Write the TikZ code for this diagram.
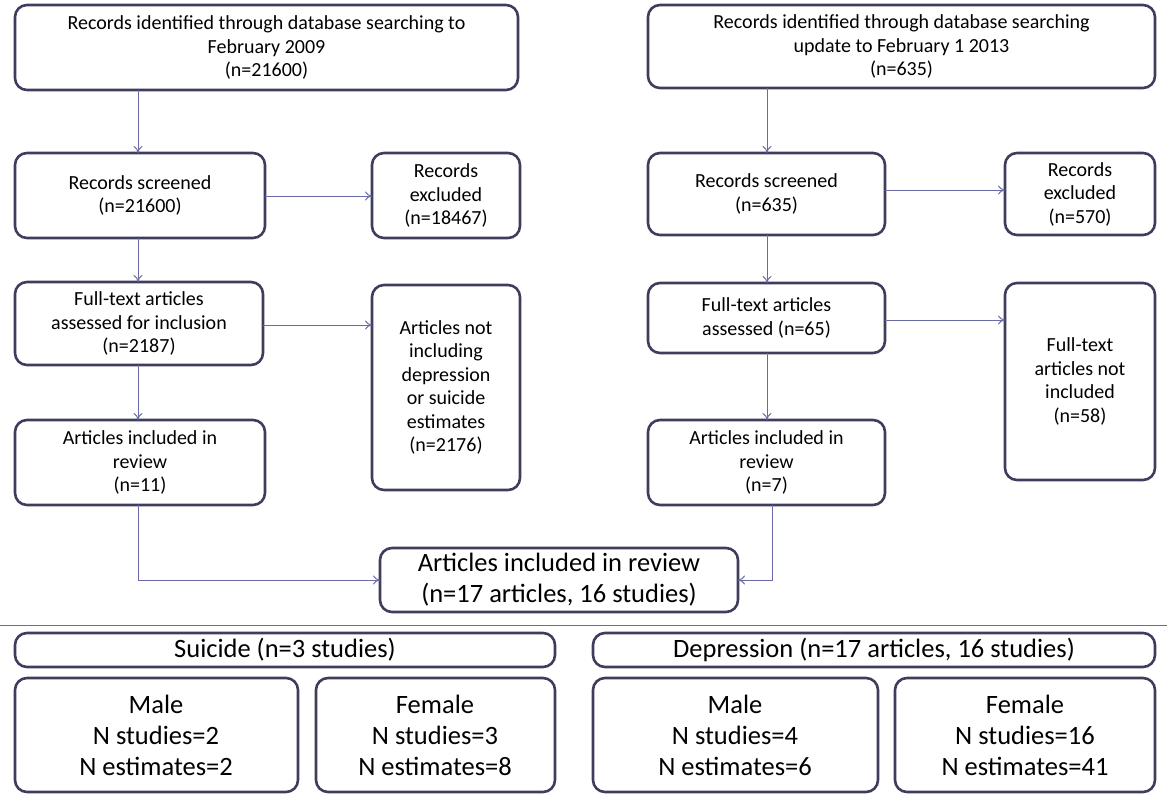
\documentclass[tikz,border=0pt]{standalone}
\usepackage{fontspec}
\setmainfont{Carlito}
\usetikzlibrary{arrows.meta}
\definecolor{bx}{HTML}{3F3D5E}
\definecolor{ar}{HTML}{6A6AA6}
\begin{document}
\begin{tikzpicture}[x=1pt,y=-1pt,
 box/.style={draw=bx,line width=2.6pt,rounded corners=12pt},
 t/.style={align=center,font=\fontsize{20}{23.5}\selectfont,text=black},
 tb/.style={align=center,font=\fontsize{26.5}{31}\selectfont,text=black},
 arr/.style={draw=ar,line width=1pt,-{To[length=7pt,width=9pt]}}]
\useasboundingbox (0,0) rectangle (1167,800);
\newcommand\bx[6]{\draw[box] (#2,#3) rectangle (#4,#5); \node[t] (#1) at ({(#2+#4)/2},{(#3+#5)/2}) {#6};
 \coordinate (#1n) at ({(#2+#4)/2},#3);}
\bx{A}{15}{5}{518}{90}{Records identified through database searching to\\February 2009\\(n=21600)}
\bx{B}{648}{5}{1155}{88}{Records identified through database searching\\update to February 1 2013\\(n=635)}
\bx{C}{15}{153}{265}{238}{Records screened\\(n=21600)}
\bx{D}{372}{153}{520}{238}{Records\\excluded\\(n=18467)}
\bx{E}{15}{282}{263}{365}{Full-text articles\\assessed for inclusion\\(n=2187)}
\bx{F}{372}{285}{520}{490}{Articles not\\including\\depression\\or suicide\\estimates\\(n=2176)}
\bx{G}{15}{420}{265}{505}{Articles included in\\review\\(n=11)}
\bx{H}{648}{153}{885}{235}{Records screened\\(n=635)}
\bx{I}{1005}{153}{1155}{235}{Records\\excluded\\(n=570)}
\bx{J}{648}{283}{885}{353}{Full-text articles\\assessed (n=65)}
\bx{K}{1005}{283}{1155}{480}{Full-text\\articles not\\included\\(n=58)}
\bx{L}{648}{420}{885}{505}{Articles included in\\review\\(n=7)}
\draw[box] (380,548) rectangle (738,612);
\node[tb] (M) at (559,580) {Articles included in review\\(n=17 articles, 16 studies)};
\coordinate (h1) at (0,625); \coordinate (h2) at (1167,625);
\draw[ar,line width=1pt] (h1) -- (h2);
\draw[box] (15,633) rectangle (555,667); \node[tb] (N) at (285,650) {Suicide (n=3 studies)};
\draw[box] (593,633) rectangle (1155,667); \node[tb] (O) at (874,650) {Depression (n=17 articles, 16 studies)};
\draw[box] (15,678) rectangle (298,792); \node[tb] (P) at (156,735) {Male\\N studies=2\\N estimates=2};
\draw[box] (316,678) rectangle (555,792); \node[tb] (Q) at (435,735) {Female\\N studies=3\\N estimates=8};
\draw[box] (593,678) rectangle (878,792); \node[tb] (R) at (735,735) {Male\\N studies=4\\N estimates=6};
\draw[box] (895,678) rectangle (1155,792); \node[tb] (S) at (1025,735) {Female\\N studies=16\\N estimates=41};
\draw[arr] (138,90) -- (138,153);
\draw[arr] (265,196) -- (372,196);
\draw[arr] (138,238) -- (138,282);
\draw[arr] (263,325) -- (372,325);
\draw[arr] (138,365) -- (138,420);
\draw[arr] (138,505) -- (138,580) -- (380,580);
\draw[arr] (767,88) -- (767,153);
\draw[arr] (885,190) -- (1005,190);
\draw[arr] (767,235) -- (767,283);
\draw[arr] (885,320) -- (1005,320);
\draw[arr] (767,353) -- (767,420);
\draw[arr] (772,505) -- (772,580) -- (738,580);
\end{tikzpicture}
\end{document}
